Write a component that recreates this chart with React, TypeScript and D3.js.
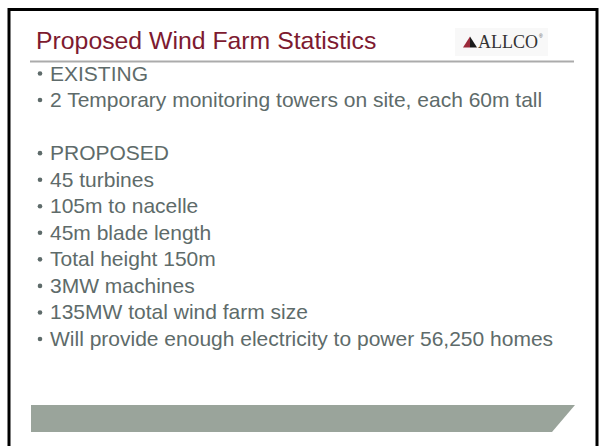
import * as d3 from "d3";

/* Slide content ------------------------------------------------------ */

const TITLE = "Proposed Wind Farm Statistics";
const LOGO = "ALLCO";

// one entry per text row; null = empty spacer row
const BULLETS: (string | null)[] = [
  "EXISTING",
  "2 Temporary monitoring towers on site, each 60m tall",
  null,
  "PROPOSED",
  "45 turbines",
  "105m to nacelle",
  "45m blade length",
  "Total height 150m",
  "3MW machines",
  "135MW total wind farm size",
  "Will provide enough electricity to power 56,250 homes",
];

/* Theme -------------------------------------------------------------- */

const W = 605;
const H = 446;
const TITLE_RED = "#7d1a30";
const BODY = "#5e6b6a";
const RULE = "#ababab";
const BAR = "#9aa49b";
const SANS = "'Liberation Sans', Arial, sans-serif";
const SERIF = "'Liberation Serif', 'Times New Roman', serif";

export default function App() {
  // row index -> text baseline
  const rowY = d3
    .scaleLinear()
    .domain([0, BULLETS.length - 1])
    .range([80.5, 346]);

  const barPath = d3.line()([
    [31, 405],
    [575, 405],
    [552, 432],
    [31, 432],
  ]) + "Z";

  const pyramidLeft = d3.line()([
    [463, 47.5],
    [470, 36.5],
    [470, 47.5],
  ]) + "Z";
  const pyramidRight = d3.line()([
    [470, 36.5],
    [477, 47.5],
    [470, 47.5],
  ]) + "Z";

  return (
    <svg
      width={W}
      height={H}
      style={{ position: "absolute", left: 0, top: 0, background: "#fff" }}
    >
      {/* slide frame */}
      <rect
        x={9}
        y={9.5}
        width={588}
        height={470}
        fill="#fff"
        stroke="#000"
        strokeWidth={3}
      />

      {/* title */}
      <text
        x={36}
        y={49}
        fill={TITLE_RED}
        fontFamily={SANS}
        fontSize={24.8}
      >
        {TITLE}
      </text>

      {/* logo */}
      <rect x={455} y={28} width={93} height={28} fill="#f8f8f8" />
      <path d={pyramidLeft} fill="#9b2a3a" />
      <path d={pyramidRight} fill="#1a1a1a" />
      <text
        x={478}
        y={48}
        fill="#333"
        fontFamily={SERIF}
        fontSize={18}
        textLength={60}
        lengthAdjust="spacingAndGlyphs"
      >
        {LOGO}
      </text>
      <text x={539} y={38} fill="#555" fontFamily={SANS} fontSize={5}>
        ®
      </text>

      {/* title rule */}
      <rect x={30} y={60.5} width={544} height={2} fill={RULE} />

      {/* bullets */}
      {BULLETS.map((t, i) =>
        t == null ? null : (
          <g key={i}>
            <circle cx={40} cy={rowY(i) - 7} r={2.3} fill={BODY} />
            <text
              x={50}
              y={rowY(i)}
              fill={BODY}
              fontFamily={SANS}
              fontSize={21}
            >
              {t}
            </text>
          </g>
        ),
      )}

      {/* footer bar */}
      <path d={barPath} fill={BAR} />
    </svg>
  );
}
